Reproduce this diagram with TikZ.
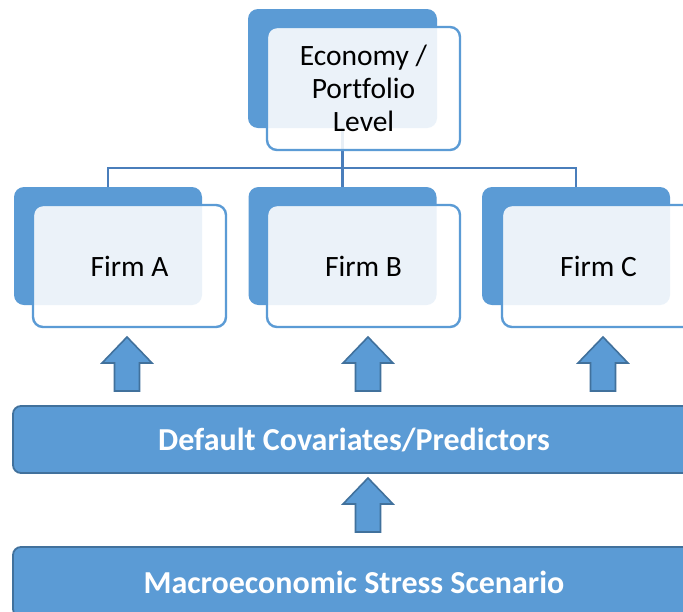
\documentclass[tikz,border=0pt]{standalone}
\usepackage{fontspec}
\setmainfont[Ligatures={NoCommon}]{Carlito}
\definecolor{mblue}{HTML}{5B9BD5}
\definecolor{dblue}{HTML}{41719C}
\definecolor{lblue}{HTML}{4A7EBB}
\begin{document}
\begin{tikzpicture}[x=1pt,y=-1pt,
  backbox/.style={draw=none,fill=mblue,rounded corners=10pt,minimum width=189pt,minimum height=119pt,inner sep=0pt},
  frontbox/.style={draw=mblue,line width=2.4pt,fill=white,fill opacity=0.88,text opacity=1,rounded corners=10pt,minimum width=193pt,minimum height=122pt,inner sep=0pt,font=\fontsize{29.5}{33}\selectfont,align=center,text=black},
  bar/.style={draw=dblue,line width=1.8pt,fill=mblue,rounded corners=8pt,minimum width=682pt,inner sep=0pt,font=\fontsize{32}{36}\selectfont\bfseries,text=white},
  conn/.style={draw=lblue,line width=2.2pt},
  arrowstyle/.style={draw=dblue,line width=1.6pt,fill=mblue,line join=miter},
  uparrow/.pic={\path[arrowstyle] (-12.5,0) -- (-12.5,-28) -- (-25,-28) -- (0,-54) -- (25,-28) -- (12.5,-28) -- (12.5,0) -- cycle;}]
\clip (0,0) rectangle (683,611);
\fill[white] (0,0) rectangle (683,611);
% back boxes
\node[backbox] (eb) at (342.5,68.5) {};
\node[backbox,minimum height=118pt,minimum width=188pt] (fab) at (108,246) {};
\node[backbox,minimum height=118pt,minimum width=188pt] (fbb) at (342.5,246) {};
\node[backbox,minimum height=118pt,minimum width=188pt] (fcb) at (576,246) {};
% connectors
\coordinate (bus) at (342.5,168);
\draw[conn] (fab.north) |- (bus) -| (fcb.north);
\draw[conn] (eb.south) -- (fbb.north);
% front boxes
\node[frontbox,minimum height=123pt] (e) at (363.5,88.5) {Economy /\\ Portfolio\\ Level};
\node[frontbox] (fa) at (129.5,266) {Firm A};
\node[frontbox] (fb) at (363.5,266) {Firm B};
\node[frontbox] (fc) at (598.5,266) {Firm C};
% arrows
\pic at (127,391) {uparrow};
\pic at (368,391) {uparrow};
\pic at (603,391) {uparrow};
\pic at (368,532) {uparrow};
% bars
\node[bar,minimum height=67pt] (dc) at (354,439.5) {Default Covariates/Predictors};
\node[bar,minimum height=70pt] (ms) at (354,582) {Macroeconomic Stress Scenario};
\end{tikzpicture}
\end{document}
